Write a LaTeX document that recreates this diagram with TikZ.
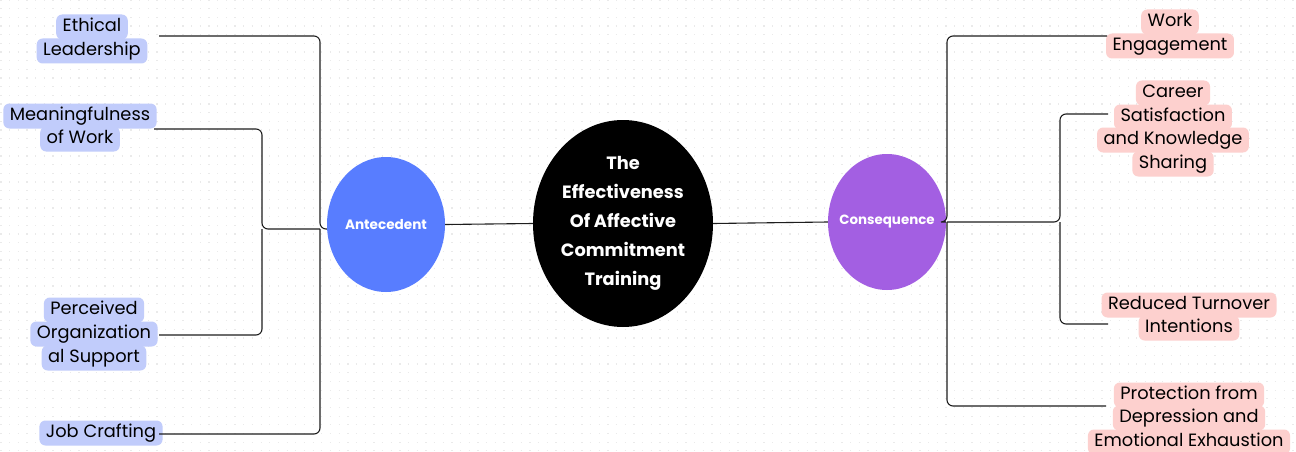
\documentclass[tikz,border=0pt]{standalone}
\usepackage{fontspec}
\setmainfont{Poppins}
\usetikzlibrary{shapes.geometric}
\definecolor{antblue}{RGB}{88,125,255}
\definecolor{conpurple}{RGB}{163,95,226}
\definecolor{lblue}{RGB}{193,204,251}
\definecolor{lpink}{RGB}{253,208,206}
\definecolor{dotgray}{RGB}{234,234,234}
\definecolor{connc}{RGB}{30,30,30}
\tikzset{
  lineL/.style={fill=lblue, rounded corners=6pt, inner xsep=6.5pt, inner ysep=0pt,
    minimum height=25pt, text height=13.5pt, text depth=4pt, text=black,
    font=\fontsize{17.8}{20}\selectfont},
  lineR/.style={lineL, fill=lpink},
  conn/.style={draw=connc, line width=1.1pt, rounded corners=6pt},
  hub/.style={ellipse, inner xsep=-14pt, inner ysep=0pt, text=white, align=center},
}
\begin{document}
\begin{tikzpicture}[x=1pt,y=-1pt]
\useasboundingbox (0,0) rectangle (1296,452);
\fill[white] (0,0) rectangle (1296,452);
% dotted grid
\foreach \r in {0,...,52}{
  \draw[dotgray, line width=1.3pt, dash pattern=on 1.3pt off 7.37pt] (0.4,{\r*8.67}) -- (1296,{\r*8.67});
}
% hubs
\node[hub, fill=antblue, minimum width=118pt, minimum height=135pt,
  font=\fontsize{13.6}{15}\selectfont\bfseries] (ant) at (386,224.5) {Antecedent};
\node[hub, fill=black, minimum width=180pt, minimum height=207pt,
  font=\fontsize{17.8}{29}\selectfont\bfseries] (core) at (623,223.5)
  {The\\Effectiveness\\Of Affective\\Commitment\\Training};
\node[hub, fill=conpurple, minimum width=118pt, minimum height=136pt,
  font=\fontsize{13.4}{15}\selectfont\bfseries] (cons) at (887,222) {Consequence};
% left labels
\node[lineL] (el1) at (92,27) {Ethical};
\node[lineL] (el2) at (92,51) {Leadership};
\node[lineL] (mw1) at (80,116) {Meaningfulness};
\node[lineL] (mw2) at (80,139) {of Work};
\node[lineL] (po1) at (94,310) {Perceived};
\node[lineL] (po2) at (94,334) {Organization};
\node[lineL] (po3) at (94,358) {al Support};
\node[lineL] (jc1) at (101,433) {Job Crafting};
% right labels
\node[lineR] (we1) at (1170,22) {Work};
\node[lineR] (we2) at (1170,46) {Engagement};
\node[lineR] (cs1) at (1173,93) {Career};
\node[lineR] (cs2) at (1173,117) {Satisfaction};
\node[lineR] (cs3) at (1173,140) {and Knowledge};
\node[lineR] (cs4) at (1173,164) {Sharing};
\node[lineR] (rt1) at (1189,305) {Reduced Turnover};
\node[lineR] (rt2) at (1189,328) {Intentions};
\node[lineR] (pd1) at (1189,395) {Protection from};
\node[lineR] (pd2) at (1189,418) {Depression and};
\node[lineR] (pd3) at (1189,442) {Emotional Exhaustion};
% connector end points
\coordinate (elc) at (159,36);
\coordinate (mwc) at (154,129);
\coordinate (poc) at (159,335);
\coordinate (jcc) at (159,434);
\coordinate (wec) at (1107,36);
\coordinate (csc) at (1108,114);
\coordinate (rtc) at (1108,324);
\coordinate (pdc) at (1106,406);
\coordinate (lj) at (320,229);
\coordinate (lk) at (262,229);
\coordinate (rj) at (947,222);
\coordinate (rk) at (1060,222);
% left connectors
\draw[conn] (elc) -| (lj) -- (ant.west |- lj);
\draw[conn] (jcc) -| (lj);
\draw[conn] (mwc) -| (lk) -- (lj);
\draw[conn] (poc) -| (lk);
% centre connectors
\draw[conn] (ant.east) -- (core.west);
\draw[conn] (core.east) -- (cons.west);
% right connectors
\draw[conn] (wec) -| (rj) -- (cons.east);
\draw[conn] (pdc) -| (rj);
\draw[conn] (csc) -| (rk) -- (rj);
\draw[conn] (rtc) -| (rk);
\end{tikzpicture}
\end{document}
